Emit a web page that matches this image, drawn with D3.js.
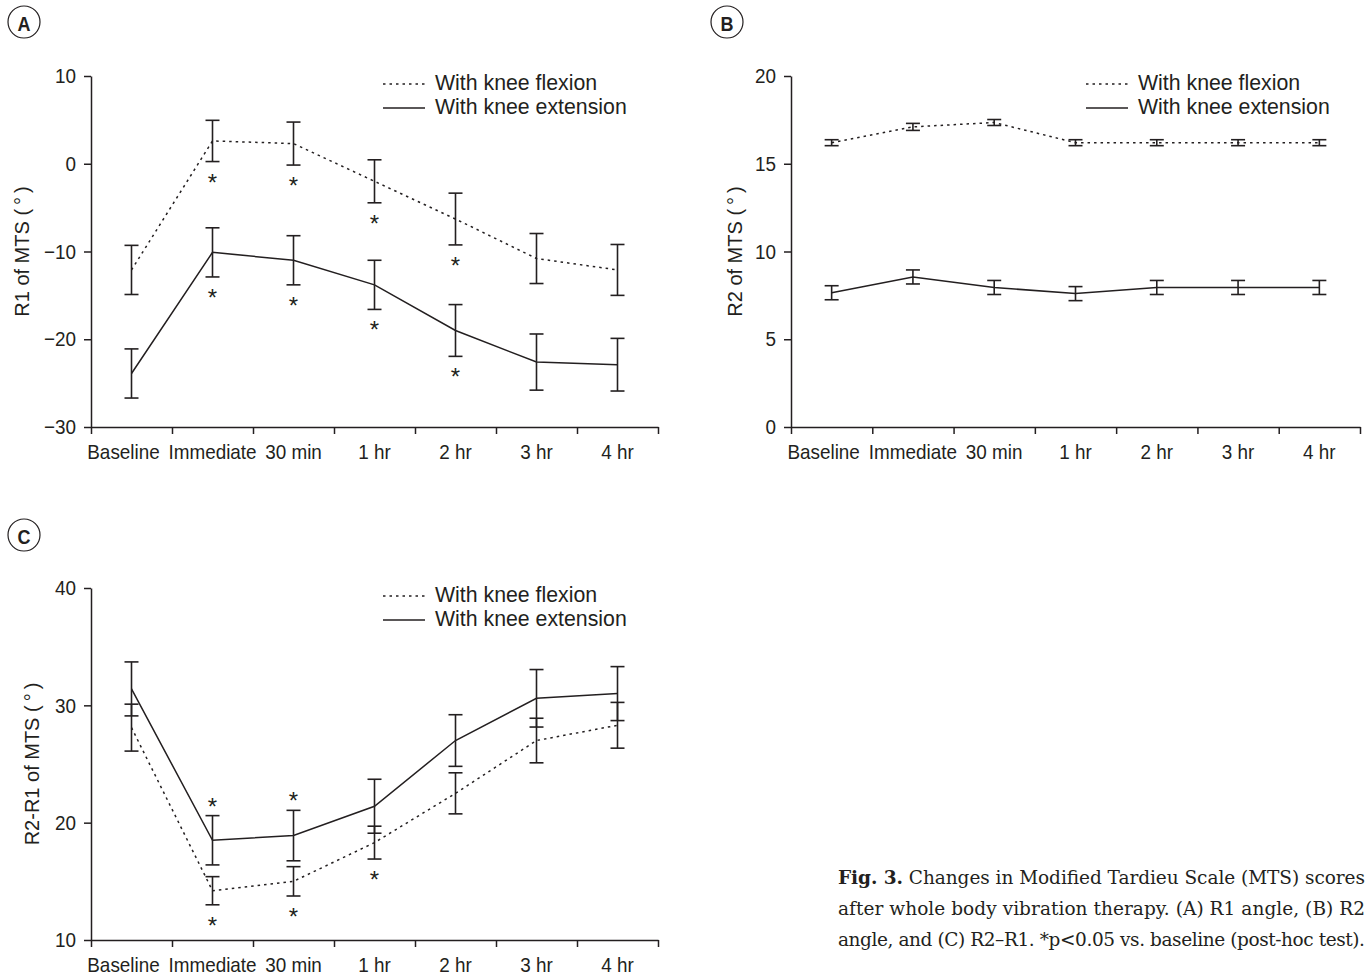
<!DOCTYPE html>
<html>
<head>
<meta charset="utf-8">
<script src="https://cdn.jsdelivr.net/npm/d3@7"></script>
<style>
  body { margin: 0; background: #fff; }
  text { font-family: "Liberation Sans", Arial, sans-serif; fill: #231f20; }
</style>
</head>
<body>
<div id="chart"></div>
<script>
// time points
const categories = ["Baseline", "Immediate", "30 min", "1 hr", "2 hr", "3 hr", "4 hr"];

// (A) R1
const r1Flexion = [-12.1, 2.6, 2.3, -2.0, -6.3, -10.8, -12.1];
const r1FlexionSE = [2.8, 2.35, 2.45, 2.45, 2.95, 2.85, 2.9];
const r1Extension = [-23.9, -10.1, -11.0, -13.8, -19.0, -22.6, -22.9];
const r1ExtensionSE = [2.8, 2.8, 2.8, 2.8, 2.95, 3.2, 3.0];
const r1FlexionStars = [0, 1, 1, 1, 1, 0, 0];
const r1ExtensionStars = [0, 1, 1, 1, 1, 0, 0];
const r1Ticks = [-30, -20, -10, 0, 10];

// (B) R2
const r2Flexion = [16.2, 17.1, 17.35, 16.2, 16.2, 16.2, 16.2];
const r2FlexionSE = [0.17, 0.2, 0.17, 0.17, 0.17, 0.17, 0.17];
const r2Extension = [7.65, 8.55, 7.95, 7.6, 7.95, 7.95, 7.95];
const r2ExtensionSE = [0.4, 0.4, 0.4, 0.4, 0.4, 0.4, 0.4];
const r2Ticks = [0, 5, 10, 15, 20];

// (C) R2-R1
const diffFlexion = [28.1, 14.2, 15.0, 18.3, 22.5, 27.0, 28.3];
const diffFlexionSE = [2.0, 1.2, 1.25, 1.4, 1.75, 1.9, 1.95];
const diffExtension = [31.4, 18.5, 18.9, 21.4, 27.0, 30.6, 31.0];
const diffExtensionSE = [2.3, 2.1, 2.15, 2.3, 2.2, 2.45, 2.3];
const diffFlexionStars = [0, 1, 1, 1, 0, 0, 0];
const diffExtensionStars = [0, 1, 1, 0, 0, 0, 0];
const diffTicks = [10, 20, 30, 40];

const legendLabels = ["With knee flexion", "With knee extension"];

const ink = "#231f20";
const squeeze = 0.9; // axis text in the figure is a bit condensed
const svg = d3.select("#chart").append("svg").attr("width", 1372).attr("height", 980);

function drawPanel(cfg) {
    const g = svg.append("g");
    const x = d3.scaleBand().domain(categories).range([cfg.left, cfg.right]);
    const cx = d => x(d) + x.bandwidth() / 2;
    const y = d3.scaleLinear().domain(d3.extent(cfg.ticks)).range([cfg.bottom, cfg.top]);

    // axes
    const gy = g.append("g").attr("transform", `translate(${cfg.left},0)`)
        .call(d3.axisLeft(y).tickValues(cfg.ticks).tickSize(7).tickSizeOuter(0)
            .tickFormat(d => d < 0 ? "\u2212" + Math.abs(d) : d));
    const xb = d3.scaleLinear().domain([0, categories.length]).range([cfg.left, cfg.right]);
    const gx = g.append("g").attr("transform", `translate(0,${cfg.bottom})`)
        .call(d3.axisBottom(xb).tickValues(d3.range(categories.length + 1)).tickSize(7).tickSizeOuter(0).tickFormat(""));
    [gx, gy].forEach(a => {
        a.selectAll("path, line").attr("stroke", ink).attr("stroke-width", 1.5);
    });
    gy.selectAll("text")
        .style("font-size", "21px").attr("fill", ink)
        .attr("x", -15 / squeeze)
        .attr("transform", `scale(${squeeze},1)`);

    // "Baseline" sits a little left of its slot in the original
    g.selectAll(".xlab").data(categories).join("text")
        .attr("transform", (d, i) => `translate(${cx(d) - (i === 0 ? 8 : 0)},${cfg.bottom + 32}) scale(${squeeze},1)`)
        .attr("text-anchor", "middle").style("font-size", "21px")
        .text(d => d);

    g.append("text")
        .attr("transform", `translate(${cfg.labelX},${(cfg.top + cfg.bottom) / 2}) rotate(-90)`)
        .attr("text-anchor", "middle").attr("dominant-baseline", "central")
        .style("font-size", "20px")
        .text(cfg.yLabel);

    // series
    cfg.series.forEach(s => {
        const pts = s.values.map((v, i) => ({ c: categories[i], v: v, se: s.se[i], star: s.stars ? s.stars[i] : 0 }));
        const line = d3.line().x(d => cx(d.c)).y(d => y(d.v));

        const eb = g.append("g");
        pts.forEach(d => {
            const x0 = cx(d.c), lo = y(d.v - d.se), hi = y(d.v + d.se);
            eb.append("line").attr("x1", x0).attr("x2", x0).attr("y1", lo).attr("y2", hi);
            eb.append("line").attr("x1", x0 - 7).attr("x2", x0 + 7).attr("y1", lo).attr("y2", lo);
            eb.append("line").attr("x1", x0 - 7).attr("x2", x0 + 7).attr("y1", hi).attr("y2", hi);
        });
        eb.selectAll("line").attr("stroke", ink).attr("stroke-width", 1.6);

        g.append("path").datum(pts)
            .attr("d", line)
            .attr("fill", "none")
            .attr("stroke", ink)
            .attr("stroke-width", 1.5)
            .attr("stroke-dasharray", s.dashed ? "2.5,4" : null);

        g.selectAll(null).data(pts.filter(d => d.star)).join("text")
            .attr("x", d => cx(d.c))
            .attr("y", d => s.starAbove ? y(d.v + d.se) - 1 : y(d.v - d.se) + 29)
            .attr("text-anchor", "middle")
            .style("font-size", "24px")
            .text("*");
    });

    // legend
    const lg = g.append("g").attr("transform", `translate(${cfg.legendX},${cfg.top + 8})`);
    legendLabels.forEach((lab, i) => {
        lg.append("line").attr("x1", 0).attr("x2", 42).attr("y1", i * 24).attr("y2", i * 24)
            .attr("stroke", ink).attr("stroke-width", 1.5)
            .attr("stroke-dasharray", i === 0 ? "2.5,4" : null);
        lg.append("text").attr("x", 52).attr("y", i * 24 - 1).attr("dominant-baseline", "central")
            .style("font-size", "21.3px").text(lab);
    });

    // panel letter
    const pl = svg.append("g").attr("transform", `translate(${cfg.letterX},${cfg.letterY})`);
    pl.append("circle").attr("r", 16).attr("fill", "none").attr("stroke", ink).attr("stroke-width", 1.2);
    pl.append("text").attr("text-anchor", "middle").attr("dominant-baseline", "central")
        .attr("transform", "translate(0,1) scale(0.9,1.05)")
        .style("font-size", "20px").style("font-weight", "bold").text(cfg.letter);
}

drawPanel({
    left: 91, right: 658, top: 76, bottom: 427, ticks: r1Ticks,
    yLabel: "R1 of MTS (\u2009°\u2009)", labelX: 22, legendX: 383,
    letter: "A", letterX: 24, letterY: 22,
    series: [
        { values: r1Flexion, se: r1FlexionSE, stars: r1FlexionStars, dashed: true, starAbove: false },
        { values: r1Extension, se: r1ExtensionSE, stars: r1ExtensionStars, dashed: false, starAbove: false }
    ]
});

drawPanel({
    left: 791, right: 1360, top: 76, bottom: 427, ticks: r2Ticks,
    yLabel: "R2 of MTS (\u2009°\u2009)", labelX: 735, legendX: 1086,
    letter: "B", letterX: 727, letterY: 22,
    series: [
        { values: r2Flexion, se: r2FlexionSE, dashed: true },
        { values: r2Extension, se: r2ExtensionSE, dashed: false }
    ]
});

drawPanel({
    left: 91, right: 658, top: 588, bottom: 940, ticks: diffTicks,
    yLabel: "R2-R1 of MTS (\u2009°\u2009)", labelX: 32, legendX: 383,
    letter: "C", letterX: 24, letterY: 535,
    series: [
        { values: diffFlexion, se: diffFlexionSE, stars: diffFlexionStars, dashed: true, starAbove: false },
        { values: diffExtension, se: diffExtensionSE, stars: diffExtensionStars, dashed: false, starAbove: true }
    ]
});

// caption
const captionLines = [
    [["Fig. 3.", true], [" Changes in Modified Tardieu Scale (MTS) scores", false]],
    [["after whole body vibration therapy. (A) R1 angle, (B) R2", false]],
    [["angle, and (C) R2\u2013R1. *p<0.05 vs. baseline (post-hoc test).", false]]
];
captionLines.forEach((parts, i) => {
    const t = svg.append("text")
        .attr("x", 838).attr("y", 884 + i * 31)
        .attr("textLength", 527).attr("lengthAdjust", "spacing")
        .style("font-family", "'DejaVu Serif', 'Liberation Serif', serif")
        .style("font-size", "18.5px");
    parts.forEach(p => {
        t.append("tspan").style("font-weight", p[1] ? "bold" : "normal").text(p[0]);
    });
});
</script>
</body>
</html>
